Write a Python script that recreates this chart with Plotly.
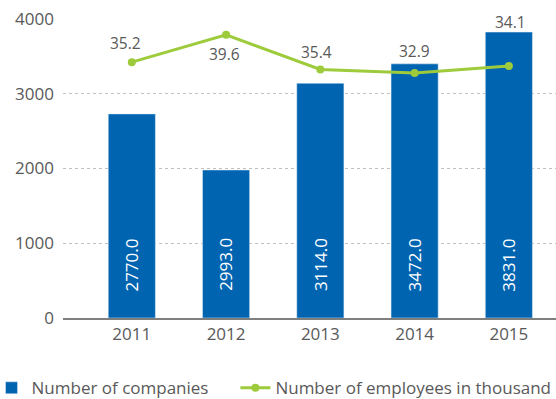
import plotly.graph_objects as go

years = ["2011", "2012", "2013", "2014", "2015"]
bar_heights = [2730, 1980, 3140, 3400, 3825]
bar_labels = ["2770.0", "2993.0", "3114.0", "3472.0", "3831.0"]
line_positions = [3423, 3789, 3325, 3276, 3370]
employees = ["35.2", "39.6", "35.4", "32.9", "34.1"]
y_ticks = [0, 1000, 2000, 3000, 4000]

FONT = "Open Sans, DejaVu Sans, sans-serif"
GREY = "#595959"

# label offsets (pixels) for the employee labels
lab_dx = [-6, -2, -4, 0, 2]
lab_dy = [19, -19, 17, 22, 44]

fig = go.Figure()
fig.add_trace(go.Bar(
    x=years, y=bar_heights, name="Number of companies",
    marker_color="#0064B1", width=0.5, legend="legend",
))
fig.add_trace(go.Scatter(
    x=years, y=line_positions, name="Number of employees in thousand",
    mode="lines+markers",
    line=dict(color="#9DCB3B", width=3), marker=dict(size=8, color="#9DCB3B"),
    cliponaxis=False, legend="legend2",
))
for i, lab in enumerate(bar_labels):
    fig.add_annotation(x=i, y=712, xref="x", yref="y", text=lab, textangle=-90,
                       showarrow=False,
                       font=dict(size=17, color="white", family=FONT))
for i, lab in enumerate(employees):
    fig.add_annotation(x=i, y=line_positions[i], xref="x", yref="y", text=lab,
                       showarrow=False, xshift=lab_dx[i], yshift=lab_dy[i],
                       font=dict(size=15.5, color=GREY, family=FONT))

leg_common = dict(orientation="h", xanchor="left", y=-0.235, yanchor="middle",
                  font=dict(size=17, color=GREY), itemwidth=30)
fig.update_layout(
    width=556, height=399,
    margin=dict(l=63, r=0, t=19, b=81, autoexpand=False),
    plot_bgcolor="white", paper_bgcolor="white",
    font=dict(family=FONT, size=17, color=GREY),
    showlegend=True,
    legend=dict(x=-0.145, **leg_common),
    legend2=dict(x=0.3497, **leg_common),
    xaxis=dict(range=[-0.73, 4.5], showline=True, linecolor="#7f7f7f", linewidth=1.5,
               ticks="", tickfont=dict(size=17, color=GREY)),
    yaxis=dict(range=[0, 4000], tickvals=y_ticks, showgrid=True, gridcolor="#c0c0c0",
               griddash="dot", zeroline=False, tickfont=dict(size=17, color=GREY),
               ticklabelstandoff=8),
)
fig.write_html("out.html", config={"displayModeBar": False},
               post_script="document.body.style.margin='0';")
